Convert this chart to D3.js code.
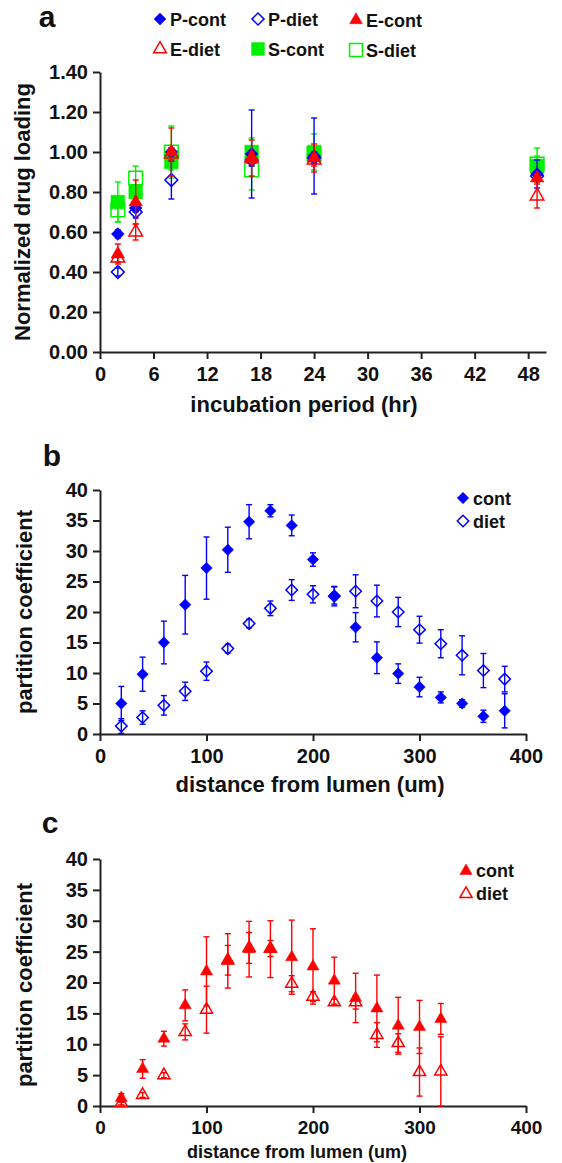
<!DOCTYPE html>
<html>
<head>
<meta charset="utf-8">
<script src="https://cdn.jsdelivr.net/npm/d3@7"></script>
<style>
  body { margin: 0; background: #fff; }
  text { font-family: "Liberation Sans", Arial, sans-serif; font-weight: bold; fill: #111; }
</style>
</head>
<body>
<script>
// ********** DATA **********

// panel a: normalized drug loading vs incubation time
const hoursA = [2, 4, 8, 17, 24, 49];
const pCont = [0.59, 0.72, 1.00, 0.99, 0.98, 0.89];
const pContErr = [0.02, 0.02, 0.02, 0.22, 0.19, 0.07];
const pDiet = [0.40, 0.70, 0.86, 0.96, 0.97, 0.88];
const pDietErr = [0.02, 0.03, 0.095, 0.03, 0.03, 0.02];
const eCont = [0.49, 0.75, 1.00, 0.97, 0.97, 0.87];
const eContErr = [0.05, 0.11, 0.12, 0.09, 0.07, 0.02];
const eDiet = [0.47, 0.60, 0.99, 0.97, 0.96, 0.78];
const eDietErr = [0.02, 0.04, 0.03, 0.03, 0.03, 0.06];
const sCont = [0.75, 0.80, 0.95, 1.00, 1.00, 0.93];
const sContErr = [0.10, 0.03, 0.04, 0.07, 0.09, 0.05];
const sDiet = [0.71, 0.87, 1.00, 0.91, 0.99, 0.94];
const sDietErr = [0.06, 0.06, 0.13, 0.10, 0.04, 0.08];
const ticksA_x = [0, 6, 12, 18, 24, 30, 36, 42, 48];
const ticksA_y = [0, 0.2, 0.4, 0.6, 0.8, 1.0, 1.2, 1.4];

// panel b: partition coefficient (blue)
const distB = [20, 40, 60, 80, 100, 120, 140, 160, 180, 200, 220, 240, 260, 280, 300, 320, 340, 360, 380];
const bCont = [5, 9.8, 15, 21.2, 27.2, 30.2, 34.8, 36.6, 34.2, 28.6, 22.7, 17.5, 12.5, 9.9, 7.7, 6, 5, 2.9, 3.8];
const bContErr = [2.8, 2.8, 3.5, 4.8, 5.1, 3.7, 2.8, 1.0, 1.7, 1.1, 1.4, 2.4, 2.6, 1.6, 1.6, 0.9, 0.6, 1.0, 2.8];
const bDiet = [1.3, 2.7, 4.7, 7, 10.3, 14, 18.1, 20.6, 23.6, 22.9, 22.6, 23.4, 21.8, 20, 17.1, 14.8, 12.9, 10.4, 9];
const bDietErr = [1.2, 1.1, 1.6, 1.5, 1.5, 0.7, 0.7, 1.2, 1.7, 1.4, 1.6, 2.7, 2.6, 2.4, 2.2, 2.3, 3.2, 2.8, 2.1];

// panel c: partition coefficient (red)
const distC = [20, 40, 60, 80, 100, 120, 140, 160, 180, 200, 220, 240, 260, 280, 300, 320];
const cCont = [1.3, 6, 10.9, 16.3, 21.8, 23.5, 25.4, 25.4, 24.1, 22.6, 20.3, 17.5, 15.8, 13, 12.8, 14.1];
const cContErr = [0.7, 1.5, 1.2, 2.5, 5.6, 4.4, 4.5, 4.6, 6.0, 6.1, 3.8, 4.0, 5.4, 4.6, 4.3, 2.5];
const cDiet = [0.5, 1.8, 5, 12, 15.6, 23.6, 25.6, 25.5, 19.8, 17.7, 16.8, 16.8, 11.5, 10.2, 5.5, 5.6];
const cDietErr = [0.3, 0.4, 0.4, 1.3, 3.8, 2.4, 2.5, 1.3, 1.3, 0.8, 0.5, 1.1, 2.0, 1.5, 3.9, 5.6];
const ticksBC_x = [0, 100, 200, 300, 400];
const ticksBC_y = [0, 5, 10, 15, 20, 25, 30, 35, 40];

const BLUE = '#0000ff', RED = '#ff0000', GREEN = '#00f000';

// ********** SVG **********

var svg = d3.select('body').append('svg')
  .attr('width', 562)
  .attr('height', 1163);

// marker shapes: diamond is a square turned 45 degrees
function markerPath(shape, k) {
  if (shape == 'diamond') return d3.symbol(d3.symbolSquare, 66 * k)();
  if (shape == 'triangle') return d3.symbol(d3.symbolTriangle, 64 * k)();
  return d3.symbol(d3.symbolSquare, 150 * k)();
}

function drawMarker(g, shape, filled, color, x, y, k) {
  g.append('path')
    .attr('d', markerPath(shape, k || 1))
    .attr('transform', 'translate(' + x + ',' + y + ')' + (shape == 'diamond' ? ' rotate(45)' : ''))
    .attr('fill', filled ? color : 'none')
    .attr('stroke', color)
    .attr('stroke-width', filled ? 0.5 : 1.5);
}

// draw one series with error bars
function drawSeries(g, xs, ys, errs, xScale, yScale, shape, filled, color, k) {
  var rows = xs.map((x, i) => ({x: x, y: ys[i], e: errs[i]}));
  var yMin = yScale.domain()[0];
  var bars = g.append('g');
  rows.forEach(function(d) {
    var px = xScale(d.x);
    var lo = yScale(Math.max(yMin, d.y - d.e)), hi = yScale(d.y + d.e);
    bars.append('line').attr('x1', px).attr('x2', px).attr('y1', lo).attr('y2', hi)
      .attr('stroke', color).attr('stroke-width', 1.4);
    [lo, hi].forEach(function(py) {
      bars.append('line').attr('x1', px - 3).attr('x2', px + 3).attr('y1', py).attr('y2', py)
        .attr('stroke', color).attr('stroke-width', 1.4);
    });
  });
  rows.forEach(function(d) {
    drawMarker(g, shape, filled, color, xScale(d.x), yScale(d.y), k);
  });
}

function drawAxes(xScale, yScale, xTicks, yTicks, xFmt, yFmt, xFont, yFont) {
  var y0 = yScale.range()[0];
  var x0 = xScale.range()[0];
  var xAxis = svg.append('g')
    .attr('transform', 'translate(0,' + y0 + ')')
    .call(d3.axisBottom(xScale).tickValues(xTicks).tickFormat(xFmt).tickSize(7).tickSizeOuter(0));
  var yAxis = svg.append('g')
    .attr('transform', 'translate(' + x0 + ',0)')
    .call(d3.axisLeft(yScale).tickValues(yTicks).tickFormat(yFmt).tickSize(7).tickSizeOuter(0));
  [xAxis, yAxis].forEach(function(ax) {
    ax.selectAll('.domain, line').attr('stroke', '#222').attr('stroke-width', 2);
    ax.selectAll('text').attr('fill', '#111');
  });
  xAxis.selectAll('text').style('font-size', xFont + 'px').attr('dy', '0.95em');
  yAxis.selectAll('text').style('font-size', yFont + 'px').attr('dx', '-0.1em');
}

function addText(x, y, str, size, rotate, anchor) {
  svg.append('text')
    .attr('transform', 'translate(' + x + ',' + y + ')' + (rotate ? ' rotate(-90)' : ''))
    .attr('text-anchor', anchor || 'middle')
    .style('font-size', size + 'px')
    .text(str);
}

// ********** PANEL A **********

var xA = d3.scaleLinear().domain([0, 50]).range([100, 546]);
var yA = d3.scaleLinear().domain([0, 1.4]).range([352, 72]);
drawAxes(xA, yA, ticksA_x, ticksA_y, d3.format('d'), d3.format('.2f'), 20, 20);

var gA = svg.append('g');
var KA = 1.25;
drawSeries(gA, hoursA, sDiet, sDietErr, xA, yA, 'square', false, GREEN, KA);
drawSeries(gA, hoursA, sCont, sContErr, xA, yA, 'square', true, GREEN, KA);
drawSeries(gA, hoursA, pDiet, pDietErr, xA, yA, 'diamond', false, BLUE, KA);
drawSeries(gA, hoursA, pCont, pContErr, xA, yA, 'diamond', true, BLUE, KA);
drawSeries(gA, hoursA, eDiet, eDietErr, xA, yA, 'triangle', false, RED, KA);
drawSeries(gA, hoursA, eCont, eContErr, xA, yA, 'triangle', true, RED, KA);

addText(47, 27, 'a', 30);
addText(30, 212, 'Normalized drug loading', 22, true);
addText(304, 412, 'incubation period (hr)', 22);

// legend for panel a
var legendA = [
  {name: 'P-cont', shape: 'diamond', filled: true, color: BLUE, x: 160, y: 19},
  {name: 'P-diet', shape: 'diamond', filled: false, color: BLUE, x: 258, y: 19},
  {name: 'E-cont', shape: 'triangle', filled: true, color: RED, x: 356, y: 20},
  {name: 'E-diet', shape: 'triangle', filled: false, color: RED, x: 160, y: 49},
  {name: 'S-cont', shape: 'square', filled: true, color: GREEN, x: 258, y: 49},
  {name: 'S-diet', shape: 'square', filled: false, color: GREEN, x: 356, y: 50}
];
var gLegA = svg.append('g');
legendA.forEach(function(d) {
  drawMarker(gLegA, d.shape, d.filled, d.color, d.x, d.y, 1.1);
  addText(d.x + 10, d.y + 7, d.name, 18, false, 'start');
});

// ********** PANEL B **********

var xB = d3.scaleLinear().domain([0, 400]).range([100, 526]);
var yB = d3.scaleLinear().domain([0, 40]).range([734, 490]);
drawAxes(xB, yB, ticksBC_x, ticksBC_y, d3.format('d'), d3.format('d'), 20, 20);

var gB = svg.append('g');
drawSeries(gB, distB, bDiet, bDietErr, xB, yB, 'diamond', false, BLUE);
drawSeries(gB, distB, bCont, bContErr, xB, yB, 'diamond', true, BLUE);

addText(52, 466, 'b', 30);
addText(32, 612, 'partition coefficient', 22, true);
addText(310, 792, 'distance from lumen (um)', 22);

drawMarker(svg, 'diamond', true, BLUE, 463, 498);
addText(473, 505, 'cont', 18, false, 'start');
drawMarker(svg, 'diamond', false, BLUE, 463, 521);
addText(473, 528, 'diet', 18, false, 'start');

// ********** PANEL C **********

var xC = d3.scaleLinear().domain([0, 400]).range([100, 526]);
var yC = d3.scaleLinear().domain([0, 40]).range([1106, 859]);
drawAxes(xC, yC, ticksBC_x, ticksBC_y, d3.format('d'), d3.format('d'), 19, 20);

var gC = svg.append('g');
drawSeries(gC, distC, cDiet, cDietErr, xC, yC, 'triangle', false, RED);
drawSeries(gC, distC, cCont, cContErr, xC, yC, 'triangle', true, RED);

addText(50, 833, 'c', 30);
addText(32, 985, 'partition coefficient', 22, true);
addText(297, 1158, 'distance from lumen (um)', 18);

drawMarker(svg, 'triangle', true, RED, 466, 871);
addText(476, 877, 'cont', 18, false, 'start');
drawMarker(svg, 'triangle', false, RED, 466, 894);
addText(476, 900, 'diet', 18, false, 'start');
</script>
</body>
</html>
